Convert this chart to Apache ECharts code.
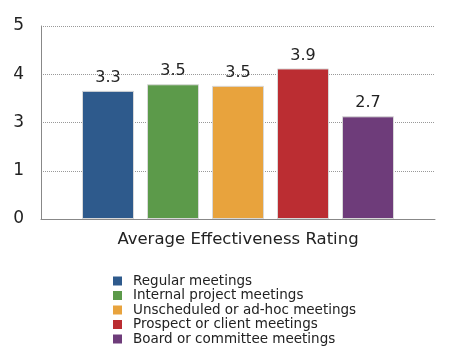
<!DOCTYPE html>
<html>
<head>
<meta charset="utf-8">
<script src="https://cdn.jsdelivr.net/npm/echarts@6/dist/echarts.min.js"></script>
<style>
  html, body { margin: 0; padding: 0; background: #fff; }
  #chart { width: 465px; height: 353px; }
</style>
</head>
<body>
<div id="chart"></div>
<script>
// data
var category = ['Average Effectiveness Rating'];
var seriesNames = ['Regular meetings', 'Internal project meetings', 'Unscheduled or ad-hoc meetings',
  'Prospect or client meetings', 'Board or committee meetings'];
var ratings = [3.32, 3.49, 3.45, 3.9, 2.66];
var colors = ['#2e5a8c', '#5c9a4a', '#e8a33d', '#bb2d32', '#6e3c7a'];

var myChart = echarts.init(document.getElementById('chart'));
var font = '"DejaVu Sans", sans-serif';

var series = [];
for (var i = 0; i < seriesNames.length; i++) {
  series.push({
    name: seriesNames[i],
    type: 'bar',
    barWidth: 52,
    barGap: '25%',
    itemStyle: {
      color: colors[i],
      borderColor: '#d8d8d8',
      borderWidth: 1
    },
    label: {
      show: true,
      position: 'top',
      distance: 5,
      color: '#222',
      fontFamily: font,
      fontSize: 16,
      formatter: function (p) { return p.value.toFixed(1); }
    },
    data: [ratings[i]]
  });
}

var option = {
  backgroundColor: '#fff',
  color: colors,
  animation: false,
  grid: { left: 41, right: 30, top: 26, bottom: 134, containLabel: false },
  legend: {
    orient: 'vertical',
    left: 108,
    top: 269,
    height: 84,
    icon: 'rect',
    itemWidth: 9,
    itemHeight: 9,
    itemGap: 0.5,
    itemStyle: { borderWidth: 0 },
    textStyle: { fontFamily: font, fontSize: 13.5, lineHeight: 13, color: '#222', padding: [0, 0, 0, 6] },
    data: seriesNames
  },
  xAxis: {
    type: 'category',
    data: category,
    axisLine: { lineStyle: { color: '#888' } },
    axisTick: { show: false },
    axisLabel: { fontFamily: font, fontSize: 16.5, color: '#222', margin: 12 }
  },
  yAxis: {
    type: 'value',
    min: 0,
    max: 5,
    interval: 1.25,
    axisLine: { show: true, lineStyle: { color: '#888' } },
    axisTick: { show: false },
    splitLine: { lineStyle: { type: 'dotted', color: '#999' } },
    axisLabel: {
      fontFamily: font, fontSize: 17, color: '#222', margin: 17,
      formatter: function (v) { return String(Math.round(v)); }
    }
  },
  series: series
};

myChart.setOption(option);
</script>
</body>
</html>
